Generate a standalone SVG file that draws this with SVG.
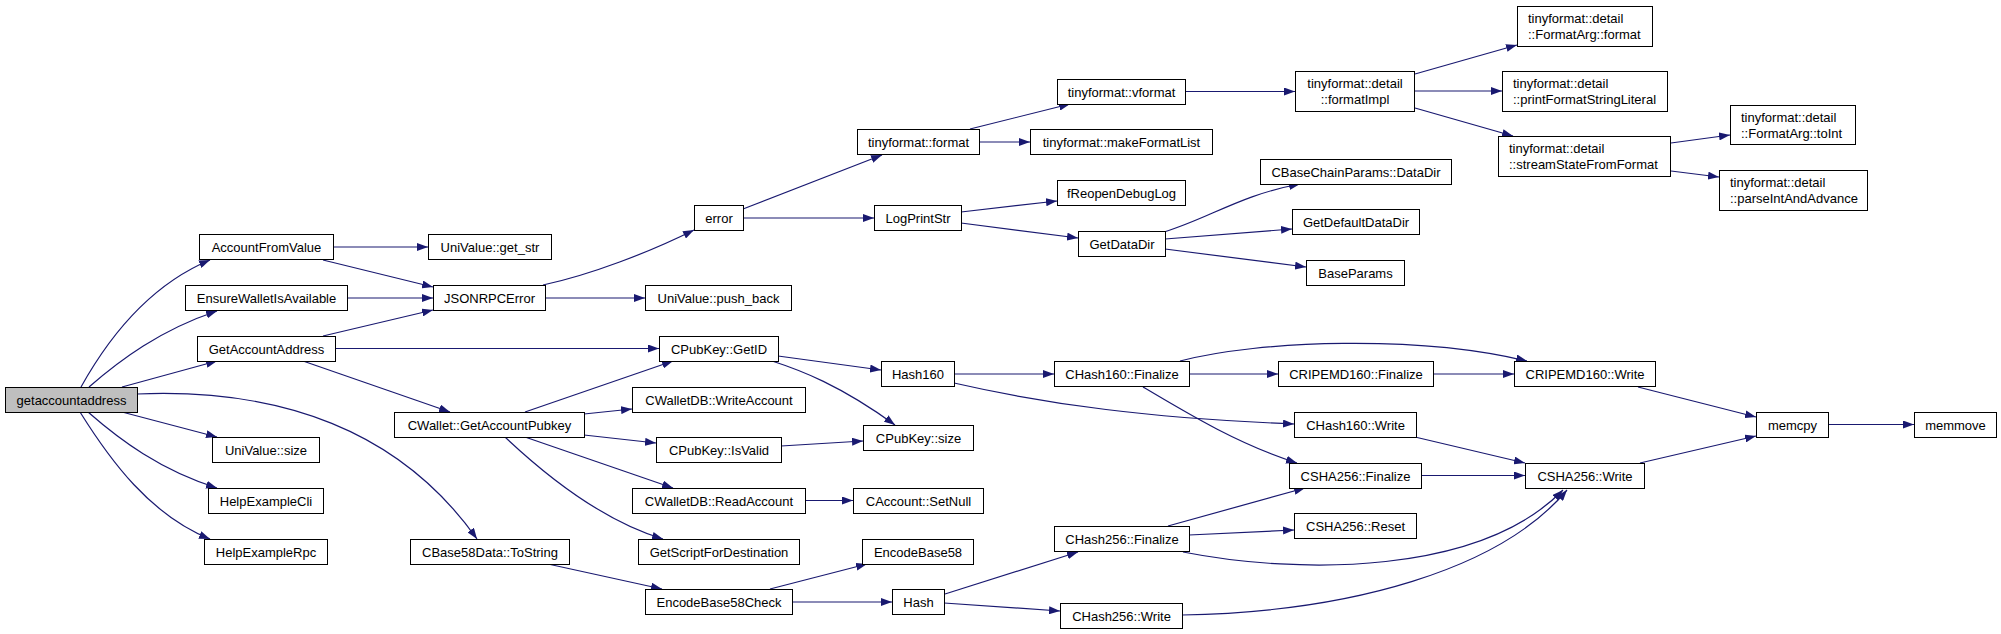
<svg xmlns="http://www.w3.org/2000/svg" width="2001" height="634" viewBox="0 0 2001 634">
<style>
.n rect{fill:#fff;stroke:#000;stroke-width:1}
.n text{font-family:"Liberation Sans",Arial,sans-serif;font-size:13px;fill:#000;text-anchor:middle}
.n text.l{text-anchor:start}
#n0 rect{fill:#bfbfbf}
.e path{fill:none;stroke:#191970;stroke-width:1.2}
</style>
<defs>
<marker id="ah" viewBox="0 0 11 8" refX="11" refY="4" markerWidth="11" markerHeight="8" markerUnits="userSpaceOnUse" orient="auto">
<path d="M0,0 L11,4 L0,8 z" fill="#191970"/>
</marker>
</defs>
<rect width="2001" height="634" fill="#fff"/>
<g class="e" marker-end="url(#ah)">
<path d="M81,387 C110,335 150,285 210,260" marker-end="url(#ah)"/>
<path d="M89,387 C120,360 160,330 217,311" marker-end="url(#ah)"/>
<path d="M122,387 L217,361" marker-end="url(#ah)"/>
<path d="M122,412 L217,437" marker-end="url(#ah)"/>
<path d="M88,412 C120,440 160,470 217,488" marker-end="url(#ah)"/>
<path d="M80,412 C110,460 150,515 210,539" marker-end="url(#ah)"/>
<path d="M137,394 C280,388 400,430 477,539" marker-end="url(#ah)"/>
<path d="M333,247 L428,247" marker-end="url(#ah)"/>
<path d="M323,260 L433,287" marker-end="url(#ah)"/>
<path d="M347,298 L433,298" marker-end="url(#ah)"/>
<path d="M323,336 L433,310" marker-end="url(#ah)"/>
<path d="M335,348.5 L659,348.5" marker-end="url(#ah)"/>
<path d="M303,361 L450,412" marker-end="url(#ah)"/>
<path d="M543,285 C590,275 650,252 694,230" marker-end="url(#ah)"/>
<path d="M545,298 L645,298" marker-end="url(#ah)"/>
<path d="M525,412 L673,361" marker-end="url(#ah)"/>
<path d="M584,414 L632,409" marker-end="url(#ah)"/>
<path d="M584,435 L656,443" marker-end="url(#ah)"/>
<path d="M525,437 L673,488" marker-end="url(#ah)"/>
<path d="M505,437 C540,470 600,520 663,539" marker-end="url(#ah)"/>
<path d="M548,564 L662,589" marker-end="url(#ah)"/>
<path d="M743,209 L882,155" marker-end="url(#ah)"/>
<path d="M743,218 L874,218" marker-end="url(#ah)"/>
<path d="M778,356 L881,370" marker-end="url(#ah)"/>
<path d="M772,361 C800,370 840,385 895,425" marker-end="url(#ah)"/>
<path d="M781,446 L863,441" marker-end="url(#ah)"/>
<path d="M805,500.5 L853,500.5" marker-end="url(#ah)"/>
<path d="M770,589 L867,564" marker-end="url(#ah)"/>
<path d="M792,602 L892,602" marker-end="url(#ah)"/>
<path d="M970,129 L1070,104" marker-end="url(#ah)"/>
<path d="M979,142 L1030,142" marker-end="url(#ah)"/>
<path d="M961,212 L1057,201" marker-end="url(#ah)"/>
<path d="M961,223 L1078,238" marker-end="url(#ah)"/>
<path d="M954,374 L1054,374" marker-end="url(#ah)"/>
<path d="M954,383 C1050,405 1150,418 1294,424" marker-end="url(#ah)"/>
<path d="M945,594 L1078,552" marker-end="url(#ah)"/>
<path d="M944,603 L1060,611" marker-end="url(#ah)"/>
<path d="M1185,91.5 L1295,91.5" marker-end="url(#ah)"/>
<path d="M1164,232 C1210,218 1240,195 1300,184" marker-end="url(#ah)"/>
<path d="M1165,239 L1292,229" marker-end="url(#ah)"/>
<path d="M1165,249 L1306,267" marker-end="url(#ah)"/>
<path d="M1189,374 L1278,374" marker-end="url(#ah)"/>
<path d="M1180,361 C1260,340 1420,335 1527,361" marker-end="url(#ah)"/>
<path d="M1143,387 C1190,415 1240,445 1297,463" marker-end="url(#ah)"/>
<path d="M1168,526 L1305,488" marker-end="url(#ah)"/>
<path d="M1189,535 L1294,530" marker-end="url(#ah)"/>
<path d="M1183,552 C1300,575 1480,575 1563,490" marker-end="url(#ah)"/>
<path d="M1182,615 C1350,612 1500,570 1567,490" marker-end="url(#ah)"/>
<path d="M1415,74 L1517,45" marker-end="url(#ah)"/>
<path d="M1415,91 L1502,91" marker-end="url(#ah)"/>
<path d="M1415,108 L1513,136" marker-end="url(#ah)"/>
<path d="M1671,143 L1730,135" marker-end="url(#ah)"/>
<path d="M1671,171 L1719,177" marker-end="url(#ah)"/>
<path d="M1433,374 L1514,374" marker-end="url(#ah)"/>
<path d="M1415,437 L1525,463" marker-end="url(#ah)"/>
<path d="M1421,475.5 L1525,475.5" marker-end="url(#ah)"/>
<path d="M1638,387 L1756,417" marker-end="url(#ah)"/>
<path d="M1640,463 L1756,436" marker-end="url(#ah)"/>
<path d="M1828,424.5 L1914,424.5" marker-end="url(#ah)"/>
</g>
<g id="n0" class="n"><rect x="5.5" y="387.5" width="132" height="25"/><text x="71.5" y="404.5">getaccountaddress</text></g>
<g id="n1" class="n"><rect x="199.5" y="234.5" width="134" height="25"/><text x="266.5" y="251.5">AccountFromValue</text></g>
<g id="n2" class="n"><rect x="185.5" y="285.5" width="162" height="25"/><text x="266.5" y="302.5">EnsureWalletIsAvailable</text></g>
<g id="n3" class="n"><rect x="197.5" y="336.5" width="138" height="25"/><text x="266.5" y="353.5">GetAccountAddress</text></g>
<g id="n4" class="n"><rect x="212.5" y="437.5" width="107" height="25"/><text x="266" y="454.5">UniValue::size</text></g>
<g id="n5" class="n"><rect x="208.5" y="488.5" width="115" height="25"/><text x="266" y="505.5">HelpExampleCli</text></g>
<g id="n6" class="n"><rect x="204.5" y="539.5" width="123" height="25"/><text x="266" y="556.5">HelpExampleRpc</text></g>
<g id="n7" class="n"><rect x="428.5" y="234.5" width="123" height="25"/><text x="490" y="251.5">UniValue::get_str</text></g>
<g id="n8" class="n"><rect x="433.5" y="285.5" width="112" height="25"/><text x="489.5" y="302.5">JSONRPCError</text></g>
<g id="n9" class="n"><rect x="394.5" y="412.5" width="190" height="25"/><text x="489.5" y="429.5">CWallet::GetAccountPubkey</text></g>
<g id="n10" class="n"><rect x="410.5" y="539.5" width="159" height="25"/><text x="490" y="556.5">CBase58Data::ToString</text></g>
<g id="n11" class="n"><rect x="694.5" y="205.5" width="49" height="25"/><text x="719" y="222.5">error</text></g>
<g id="n12" class="n"><rect x="645.5" y="285.5" width="146" height="25"/><text x="718.5" y="302.5">UniValue::push_back</text></g>
<g id="n13" class="n"><rect x="659.5" y="336.5" width="119" height="25"/><text x="719" y="353.5">CPubKey::GetID</text></g>
<g id="n14" class="n"><rect x="632.5" y="387.5" width="173" height="25"/><text x="719" y="404.5">CWalletDB::WriteAccount</text></g>
<g id="n15" class="n"><rect x="656.5" y="437.5" width="125" height="25"/><text x="719" y="454.5">CPubKey::IsValid</text></g>
<g id="n16" class="n"><rect x="632.5" y="488.5" width="173" height="25"/><text x="719" y="505.5">CWalletDB::ReadAccount</text></g>
<g id="n17" class="n"><rect x="638.5" y="539.5" width="161" height="25"/><text x="719" y="556.5">GetScriptForDestination</text></g>
<g id="n18" class="n"><rect x="645.5" y="589.5" width="147" height="25"/><text x="719" y="606.5">EncodeBase58Check</text></g>
<g id="n19" class="n"><rect x="857.5" y="129.5" width="122" height="25"/><text x="918.5" y="146.5">tinyformat::format</text></g>
<g id="n20" class="n"><rect x="874.5" y="205.5" width="87" height="25"/><text x="918" y="222.5">LogPrintStr</text></g>
<g id="n21" class="n"><rect x="881.5" y="361.5" width="73" height="25"/><text x="918" y="378.5">Hash160</text></g>
<g id="n22" class="n"><rect x="863.5" y="425.5" width="110" height="25"/><text x="918.5" y="442.5">CPubKey::size</text></g>
<g id="n23" class="n"><rect x="853.5" y="488.5" width="130" height="25"/><text x="918.5" y="505.5">CAccount::SetNull</text></g>
<g id="n24" class="n"><rect x="862.5" y="539.5" width="111" height="25"/><text x="918" y="556.5">EncodeBase58</text></g>
<g id="n25" class="n"><rect x="892.5" y="589.5" width="52" height="25"/><text x="918.5" y="606.5">Hash</text></g>
<g id="n26" class="n"><rect x="1057.5" y="79.5" width="128" height="25"/><text x="1121.5" y="96.5">tinyformat::vformat</text></g>
<g id="n27" class="n"><rect x="1030.5" y="129.5" width="182" height="25"/><text x="1121.5" y="146.5">tinyformat::makeFormatList</text></g>
<g id="n28" class="n"><rect x="1057.5" y="180.5" width="128" height="25"/><text x="1121.5" y="197.5">fReopenDebugLog</text></g>
<g id="n29" class="n"><rect x="1078.5" y="231.5" width="87" height="25"/><text x="1122" y="248.5">GetDataDir</text></g>
<g id="n30" class="n"><rect x="1054.5" y="361.5" width="135" height="25"/><text x="1122" y="378.5">CHash160::Finalize</text></g>
<g id="n31" class="n"><rect x="1054.5" y="526.5" width="135" height="25"/><text x="1122" y="543.5">CHash256::Finalize</text></g>
<g id="n32" class="n"><rect x="1060.5" y="603.5" width="122" height="25"/><text x="1121.5" y="620.5">CHash256::Write</text></g>
<g id="n33" class="n"><rect x="1295.5" y="71.5" width="119" height="40"/><text x="1355" y="88">tinyformat::detail</text><text x="1355" y="104">::formatImpl</text></g>
<g id="n34" class="n"><rect x="1260.5" y="159.5" width="191" height="25"/><text x="1356" y="176.5">CBaseChainParams::DataDir</text></g>
<g id="n35" class="n"><rect x="1292.5" y="209.5" width="127" height="25"/><text x="1356" y="226.5">GetDefaultDataDir</text></g>
<g id="n36" class="n"><rect x="1306.5" y="260.5" width="98" height="25"/><text x="1355.5" y="277.5">BaseParams</text></g>
<g id="n37" class="n"><rect x="1278.5" y="361.5" width="155" height="25"/><text x="1356" y="378.5">CRIPEMD160::Finalize</text></g>
<g id="n38" class="n"><rect x="1294.5" y="412.5" width="122" height="25"/><text x="1355.5" y="429.5">CHash160::Write</text></g>
<g id="n39" class="n"><rect x="1289.5" y="463.5" width="132" height="25"/><text x="1355.5" y="480.5">CSHA256::Finalize</text></g>
<g id="n40" class="n"><rect x="1294.5" y="513.5" width="122" height="25"/><text x="1355.5" y="530.5">CSHA256::Reset</text></g>
<g id="n41" class="n"><rect x="1517.5" y="6.5" width="135" height="40"/><text class="l" x="1528" y="23">tinyformat::detail</text><text class="l" x="1528" y="39">::FormatArg::format</text></g>
<g id="n42" class="n"><rect x="1502.5" y="71.5" width="165" height="40"/><text class="l" x="1513" y="88">tinyformat::detail</text><text class="l" x="1513" y="104">::printFormatStringLiteral</text></g>
<g id="n43" class="n"><rect x="1498.5" y="136.5" width="172" height="40"/><text class="l" x="1509" y="153">tinyformat::detail</text><text class="l" x="1509" y="169">::streamStateFromFormat</text></g>
<g id="n44" class="n"><rect x="1514.5" y="361.5" width="141" height="25"/><text x="1585" y="378.5">CRIPEMD160::Write</text></g>
<g id="n45" class="n"><rect x="1525.5" y="463.5" width="119" height="25"/><text x="1585" y="480.5">CSHA256::Write</text></g>
<g id="n46" class="n"><rect x="1730.5" y="105.5" width="125" height="39"/><text class="l" x="1741" y="121.5">tinyformat::detail</text><text class="l" x="1741" y="137.5">::FormatArg::toInt</text></g>
<g id="n47" class="n"><rect x="1719.5" y="170.5" width="148" height="40"/><text class="l" x="1730" y="187">tinyformat::detail</text><text class="l" x="1730" y="203">::parseIntAndAdvance</text></g>
<g id="n48" class="n"><rect x="1756.5" y="412.5" width="72" height="25"/><text x="1792.5" y="429.5">memcpy</text></g>
<g id="n49" class="n"><rect x="1914.5" y="412.5" width="82" height="25"/><text x="1955.5" y="429.5">memmove</text></g>
</svg>
